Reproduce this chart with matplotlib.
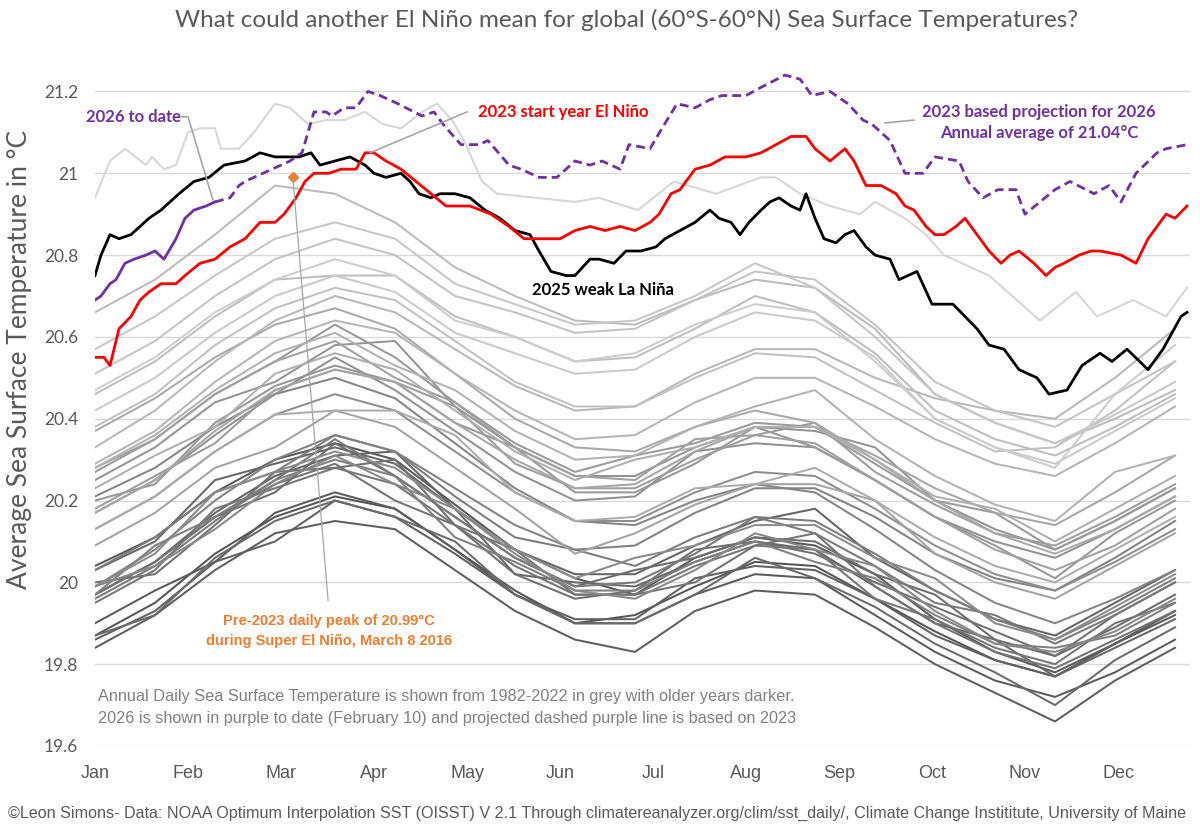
import matplotlib
matplotlib.use('Agg')
import matplotlib.pyplot as plt
from matplotlib.lines import Line2D

# day-of-year knots used for the grey climatology years (every 20 days)
grey_days = [0, 20, 40, 60, 80, 100, 120, 140, 160, 180, 200, 220, 240, 260, 280, 300, 320, 340, 360]

grey_years = {
    1982: [19.87, 19.95, 20.07, 20.16, 20.21, 20.18, 20.08, 19.98, 19.90, 19.92, 19.99, 20.05, 20.04, 19.96, 19.88, 19.81, 19.77, 19.85, 19.93],
    1983: [20.04, 20.11, 20.22, 20.30, 20.34, 20.30, 20.19, 20.08, 20.01, 19.97, 20.06, 20.11, 20.09, 20.02, 19.91, 19.83, 19.78, 19.85, 19.92],
    1984: [19.90, 19.98, 20.05, 20.17, 20.22, 20.18, 20.08, 19.97, 19.90, 19.90, 19.97, 20.02, 20.01, 19.92, 19.83, 19.76, 19.72, 19.78, 19.86],
    1985: [19.84, 19.92, 20.03, 20.12, 20.15, 20.13, 20.03, 19.93, 19.86, 19.83, 19.93, 19.98, 19.97, 19.89, 19.80, 19.73, 19.66, 19.76, 19.84],
    1986: [19.86, 19.93, 20.05, 20.10, 20.20, 20.16, 20.07, 19.97, 19.91, 19.91, 20.01, 20.04, 20.03, 19.96, 19.87, 19.81, 19.77, 19.85, 19.93],
    1987: [19.97, 20.05, 20.17, 20.26, 20.31, 20.32, 20.18, 20.08, 20.02, 20.02, 20.09, 20.15, 20.18, 20.06, 19.98, 19.91, 19.87, 19.95, 20.03],
    1988: [20.03, 20.10, 20.25, 20.29, 20.33, 20.29, 20.18, 20.02, 20.00, 19.99, 20.05, 20.10, 20.08, 19.99, 19.90, 19.86, 19.77, 19.84, 19.91],
    1989: [19.87, 19.92, 20.06, 20.15, 20.20, 20.16, 20.10, 19.97, 19.90, 19.90, 19.97, 20.06, 20.01, 19.94, 19.85, 19.78, 19.70, 19.81, 19.89],
    1990: [19.97, 20.05, 20.16, 20.22, 20.34, 20.26, 20.16, 20.06, 19.99, 20.03, 20.06, 20.11, 20.10, 20.02, 19.97, 19.86, 19.82, 19.89, 19.97],
    1991: [20.00, 20.02, 20.14, 20.27, 20.28, 20.30, 20.14, 20.02, 19.96, 19.98, 20.08, 20.10, 20.07, 20.00, 19.94, 19.88, 19.82, 19.92, 20.00],
    1992: [19.97, 20.05, 20.16, 20.24, 20.29, 20.20, 20.14, 20.04, 19.97, 19.97, 20.00, 20.09, 20.12, 19.99, 19.90, 19.83, 19.79, 19.86, 19.93],
    1993: [19.95, 20.03, 20.18, 20.23, 20.28, 20.24, 20.14, 20.08, 19.97, 19.97, 20.04, 20.09, 20.08, 19.96, 19.91, 19.84, 19.80, 19.90, 19.95],
    1994: [19.96, 20.04, 20.15, 20.25, 20.35, 20.26, 20.16, 20.06, 19.99, 20.00, 20.07, 20.16, 20.12, 20.04, 19.95, 19.92, 19.85, 19.92, 20.00],
    1995: [20.03, 20.11, 20.22, 20.27, 20.36, 20.32, 20.21, 20.11, 20.08, 20.04, 20.11, 20.16, 20.15, 20.07, 19.98, 19.91, 19.86, 19.93, 20.01],
    1996: [19.97, 20.09, 20.16, 20.25, 20.30, 20.26, 20.11, 20.05, 19.98, 19.98, 20.05, 20.10, 20.05, 20.01, 19.92, 19.85, 19.84, 19.87, 19.95],
    1997: [19.99, 20.08, 20.20, 20.30, 20.36, 20.32, 20.23, 20.14, 20.08, 20.09, 20.17, 20.23, 20.23, 20.16, 20.07, 20.01, 19.98, 20.06, 20.15],
    1998: [20.21, 20.28, 20.38, 20.46, 20.50, 20.45, 20.34, 20.23, 20.15, 20.14, 20.20, 20.24, 20.22, 20.13, 20.03, 19.95, 19.90, 19.96, 20.03],
    1999: [19.99, 20.04, 20.13, 20.24, 20.31, 20.24, 20.18, 20.07, 19.98, 19.96, 20.03, 20.12, 20.08, 20.04, 19.93, 19.85, 19.83, 19.88, 19.96],
    2000: [19.99, 20.07, 20.22, 20.27, 20.32, 20.28, 20.18, 20.08, 20.01, 20.06, 20.09, 20.14, 20.14, 20.06, 20.01, 19.90, 19.86, 19.94, 20.02],
    2001: [20.13, 20.21, 20.32, 20.41, 20.46, 20.42, 20.32, 20.22, 20.15, 20.15, 20.22, 20.27, 20.26, 20.18, 20.09, 20.02, 19.98, 20.05, 20.13],
    2002: [20.17, 20.25, 20.36, 20.46, 20.55, 20.47, 20.37, 20.27, 20.20, 20.21, 20.32, 20.34, 20.33, 20.25, 20.16, 20.10, 20.06, 20.13, 20.21],
    2003: [20.25, 20.33, 20.44, 20.49, 20.58, 20.59, 20.43, 20.33, 20.26, 20.26, 20.33, 20.38, 20.37, 20.33, 20.20, 20.13, 20.08, 20.15, 20.23],
    2004: [20.20, 20.24, 20.39, 20.48, 20.53, 20.49, 20.39, 20.33, 20.22, 20.22, 20.29, 20.38, 20.33, 20.25, 20.16, 20.09, 20.01, 20.12, 20.20],
    2005: [20.27, 20.35, 20.46, 20.54, 20.63, 20.55, 20.44, 20.34, 20.27, 20.31, 20.34, 20.39, 20.38, 20.29, 20.20, 20.17, 20.08, 20.15, 20.23],
    2006: [20.18, 20.26, 20.34, 20.47, 20.52, 20.49, 20.43, 20.29, 20.23, 20.23, 20.30, 20.36, 20.39, 20.27, 20.19, 20.12, 20.09, 20.16, 20.24],
    2007: [20.28, 20.35, 20.46, 20.54, 20.59, 20.50, 20.44, 20.33, 20.26, 20.25, 20.35, 20.36, 20.34, 20.25, 20.16, 20.08, 20.03, 20.09, 20.18],
    2008: [20.09, 20.17, 20.28, 20.33, 20.42, 20.38, 20.28, 20.18, 20.07, 20.12, 20.19, 20.24, 20.24, 20.20, 20.07, 20.00, 19.96, 20.04, 20.12],
    2009: [20.17, 20.25, 20.37, 20.47, 20.52, 20.49, 20.39, 20.30, 20.23, 20.24, 20.32, 20.38, 20.38, 20.31, 20.23, 20.17, 20.14, 20.22, 20.31],
    2010: [20.37, 20.45, 20.55, 20.63, 20.67, 20.62, 20.51, 20.40, 20.33, 20.32, 20.38, 20.42, 20.39, 20.30, 20.20, 20.12, 20.07, 20.13, 20.21],
    2011: [20.13, 20.21, 20.32, 20.41, 20.42, 20.42, 20.36, 20.22, 20.15, 20.16, 20.23, 20.24, 20.28, 20.20, 20.11, 20.04, 20.00, 20.08, 20.16],
    2012: [20.23, 20.31, 20.38, 20.51, 20.56, 20.52, 20.42, 20.32, 20.25, 20.30, 20.33, 20.38, 20.38, 20.30, 20.21, 20.18, 20.10, 20.18, 20.26],
    2013: [20.28, 20.36, 20.47, 20.56, 20.61, 20.53, 20.47, 20.37, 20.30, 20.31, 20.38, 20.43, 20.47, 20.35, 20.26, 20.19, 20.15, 20.27, 20.31],
    2014: [20.29, 20.37, 20.49, 20.59, 20.64, 20.61, 20.51, 20.42, 20.35, 20.36, 20.44, 20.50, 20.50, 20.43, 20.35, 20.29, 20.26, 20.34, 20.43],
    2015: [20.33, 20.42, 20.54, 20.64, 20.70, 20.66, 20.57, 20.48, 20.42, 20.43, 20.51, 20.57, 20.57, 20.50, 20.45, 20.42, 20.40, 20.50, 20.62],
    2016: [20.66, 20.74, 20.85, 20.97, 20.95, 20.88, 20.77, 20.70, 20.64, 20.63, 20.69, 20.74, 20.72, 20.62, 20.46, 20.39, 20.34, 20.40, 20.47],
    2017: [20.46, 20.54, 20.65, 20.74, 20.75, 20.75, 20.65, 20.60, 20.54, 20.55, 20.62, 20.70, 20.66, 20.56, 20.42, 20.35, 20.31, 20.38, 20.46],
    2018: [20.38, 20.46, 20.58, 20.67, 20.72, 20.69, 20.59, 20.49, 20.43, 20.43, 20.50, 20.56, 20.55, 20.47, 20.39, 20.32, 20.33, 20.42, 20.54],
    2019: [20.51, 20.59, 20.70, 20.79, 20.84, 20.80, 20.70, 20.66, 20.61, 20.62, 20.69, 20.76, 20.74, 20.63, 20.49, 20.42, 20.38, 20.46, 20.54],
    2020: [20.57, 20.65, 20.75, 20.84, 20.88, 20.84, 20.73, 20.68, 20.63, 20.64, 20.70, 20.78, 20.72, 20.60, 20.46, 20.39, 20.34, 20.41, 20.49],
    2021: [20.42, 20.50, 20.61, 20.70, 20.75, 20.71, 20.61, 20.56, 20.51, 20.52, 20.60, 20.66, 20.64, 20.55, 20.40, 20.33, 20.29, 20.37, 20.45],
    2022: [20.47, 20.55, 20.66, 20.74, 20.79, 20.75, 20.64, 20.60, 20.54, 20.56, 20.63, 20.68, 20.66, 20.54, 20.40, 20.33, 20.28, 20.46, 20.58],
}

days_2024 = [0, 5, 10, 17, 19, 23, 27, 31, 35, 40, 42, 48, 53, 60, 65, 71, 77, 83, 90, 96, 102, 109,
             114, 119, 123, 129, 134, 147, 160, 168, 181, 193, 207, 222, 227, 235, 245, 255, 260,
             270, 277, 283, 298, 315, 327, 334, 346, 357, 364]
sst_2024 = [20.94, 21.03, 21.06, 21.02, 21.04, 21.01, 21.02, 21.10, 21.11, 21.11, 21.06, 21.06, 21.10,
            21.17, 21.16, 21.12, 21.13, 21.13, 21.15, 21.12, 21.11, 21.15, 21.17, 21.13, 21.08, 20.98,
            20.95, 20.94, 20.93, 20.94, 20.91, 20.98, 20.95, 20.99, 20.99, 20.95, 20.92, 20.90, 20.93,
            20.89, 20.85, 20.80, 20.75, 20.64, 20.71, 20.65, 20.69, 20.65, 20.72]

days_2023 = [0, 3, 5, 8, 12, 15, 18, 22, 27, 30, 35, 40, 45, 50, 55, 60, 63, 67, 70, 73, 78, 82, 87,
             90, 93, 97, 102, 107, 112, 117, 125, 132, 138, 143, 150, 155, 160, 165, 170, 175, 180,
             185, 188, 192, 195, 200, 205, 210, 217, 222, 227, 232, 237, 240, 245, 250, 253, 257,
             262, 267, 270, 273, 277, 280, 283, 287, 290, 293, 298, 302, 305, 308, 313, 317, 320,
             323, 328, 332, 335, 342, 347, 351, 357, 360, 364]
sst_2023 = [20.55, 20.55, 20.53, 20.62, 20.65, 20.69, 20.71, 20.73, 20.73, 20.75, 20.78, 20.79, 20.82,
            20.84, 20.88, 20.88, 20.90, 20.94, 20.98, 21.00, 21.00, 21.01, 21.01, 21.05, 21.05, 21.03,
            21.01, 20.98, 20.95, 20.92, 20.92, 20.90, 20.87, 20.84, 20.84, 20.84, 20.86, 20.87, 20.86,
            20.87, 20.86, 20.88, 20.90, 20.95, 20.96, 21.01, 21.02, 21.04, 21.04, 21.05, 21.07, 21.09,
            21.09, 21.06, 21.03, 21.06, 21.03, 20.97, 20.97, 20.95, 20.92, 20.91, 20.87, 20.85, 20.85,
            20.87, 20.89, 20.86, 20.81, 20.78, 20.80, 20.81, 20.78, 20.75, 20.77, 20.78, 20.80, 20.81,
            20.81, 20.80, 20.78, 20.84, 20.90, 20.89, 20.92]

days_2025 = [0, 2, 5, 8, 12, 15, 18, 22, 25, 28, 33, 38, 43, 50, 55, 60, 65, 68, 72, 75, 80, 85, 90,
             93, 97, 102, 105, 108, 112, 115, 120, 125, 130, 135, 140, 145, 148, 152, 157, 160, 165,
             168, 173, 177, 182, 187, 190, 195, 200, 205, 208, 212, 215, 218, 222, 225, 228, 232,
             235, 237, 240, 243, 247, 250, 253, 257, 260, 265, 268, 274, 279, 286, 294, 298, 303,
             308, 314, 318, 324, 329, 335, 339, 344, 351, 356, 362, 364]
sst_2025 = [20.75, 20.80, 20.85, 20.84, 20.85, 20.87, 20.89, 20.91, 20.93, 20.95, 20.98, 20.99, 21.02,
            21.03, 21.05, 21.04, 21.04, 21.04, 21.05, 21.02, 21.03, 21.04, 21.02, 21.00, 20.99, 21.00,
            20.98, 20.95, 20.94, 20.95, 20.95, 20.94, 20.91, 20.89, 20.86, 20.85, 20.81, 20.76, 20.75,
            20.75, 20.79, 20.79, 20.78, 20.81, 20.81, 20.82, 20.84, 20.86, 20.88, 20.91, 20.89, 20.88,
            20.85, 20.88, 20.91, 20.93, 20.94, 20.92, 20.91, 20.95, 20.89, 20.84, 20.83, 20.85, 20.86,
            20.82, 20.80, 20.79, 20.74, 20.76, 20.68, 20.68, 20.62, 20.58, 20.57, 20.52, 20.50, 20.46,
            20.47, 20.53, 20.56, 20.54, 20.57, 20.52, 20.57, 20.65, 20.66]

days_2026 = [0, 2, 5, 7, 10, 13, 17, 20, 23, 27, 30, 33, 37, 40]
sst_2026 = [20.69, 20.70, 20.73, 20.74, 20.78, 20.79, 20.80, 20.81, 20.79, 20.84, 20.89, 20.91, 20.92, 20.93]

days_proj = [40, 45, 48, 50, 56, 62, 65, 69, 73, 77, 79, 83, 87, 91, 95, 101, 109, 113, 116, 122, 128,
             131, 138, 142, 148, 154, 160, 165, 169, 175, 178, 185, 189, 194, 200, 205, 209, 217,
             222, 230, 235, 239, 245, 251, 256, 259, 265, 270, 276, 280, 288, 291, 296, 301, 307,
             310, 315, 320, 325, 333, 338, 342, 347, 354, 357, 364]
sst_proj = [20.93, 20.94, 20.97, 20.98, 21.00, 21.02, 21.03, 21.05, 21.15, 21.15, 21.14, 21.16, 21.16,
            21.20, 21.19, 21.17, 21.14, 21.15, 21.12, 21.07, 21.07, 21.08, 21.02, 21.01, 20.99, 20.99,
            21.03, 21.02, 21.03, 21.01, 21.07, 21.06, 21.11, 21.17, 21.16, 21.18, 21.19, 21.19, 21.21,
            21.24, 21.23, 21.19, 21.20, 21.17, 21.13, 21.12, 21.08, 21.00, 21.00, 21.04, 21.03, 20.98,
            20.94, 20.96, 20.96, 20.90, 20.93, 20.96, 20.98, 20.95, 20.97, 20.93, 21.00, 21.05, 21.06,
            21.07]

peak_2016_day = 66
peak_2016_value = 20.99

months = ['Jan', 'Feb', 'Mar', 'Apr', 'May', 'Jun', 'Jul', 'Aug', 'Sep', 'Oct', 'Nov', 'Dec']
yticks = [19.6, 19.8, 20.0, 20.2, 20.4, 20.6, 20.8, 21.0, 21.2]
ytick_labels = ['19.6', '19.8', '20', '20.2', '20.4', '20.6', '20.8', '21', '21.2']

TXT = '#595959'
sans = ['Lato', 'DejaVu Sans']
narrow = ['Liberation Sans', 'DejaVu Sans']

fig = plt.figure(figsize=(12, 8.36), dpi=100)
ax = fig.add_axes([95 / 1200, 1 - 746 / 836, 1095 / 1200, 675 / 836])

years = sorted(grey_years)
n = len(years)
for i, yr in enumerate(years):
    g = (85 + 120 * i / (n - 1)) / 255
    ax.plot(grey_days, grey_years[yr], color=(g, g, g), lw=1.45, zorder=2)
ax.plot(days_2024, sst_2024, color='#d6d6d6', lw=1.45, zorder=2)

ax.plot(days_2025, sst_2025, color='black', lw=2.0, zorder=4)
ax.plot(days_2023, sst_2023, color='#ff0000', lw=2.0, zorder=5)
ax.plot(days_proj, sst_proj, color='#7030a0', lw=2.0, dashes=(3.2, 1.8), zorder=6)
ax.plot(days_2026, sst_2026, color='#7030a0', lw=2.0, zorder=6)
ax.plot([peak_2016_day], [peak_2016_value], marker='D', ms=5, color='#ed7d31', zorder=7)

ax.set_xlim(0, 365)
ax.set_ylim(19.6, 21.25)
ax.set_yticks(yticks)
ax.set_yticklabels(ytick_labels, family=sans, fontsize=12.5, color=TXT)
ax.set_xticks([31 * i for i in range(12)])
ax.set_xticklabels(months, family=narrow, fontsize=13, color=TXT)
ax.tick_params(length=0)
ax.tick_params(axis='y', pad=12)
ax.tick_params(axis='x', pad=14)
ax.grid(axis='y', color='#d9d9d9', lw=1.0, zorder=0)
ax.set_axisbelow(True)
for s in ax.spines.values():
    s.set_visible(False)

# annotations
ax.text(13, 21.137, '2026 to date', color='#7030a0', fontsize=12, fontweight='bold',
        family=sans, ha='center', va='center')
ax.add_line(Line2D([29, 31, 39.3], [21.138, 21.138, 20.935], color='#a6a6a6', lw=1.2, zorder=8))
ax.text(127.7, 21.15, '2023 start year El Niño', color='#ff0000', fontsize=12, fontweight='bold',
        family=sans, ha='left', va='center')
ax.add_line(Line2D([124, 91.7], [21.15, 21.05], color='#a6a6a6', lw=1.2, zorder=8))
ax.text(314.7, 21.15, '2023 based projection for 2026', color='#7030a0', fontsize=12,
        fontweight='bold', family=sans, ha='center', va='center')
ax.text(314.7, 21.099, 'Annual average of 21.04°C', color='#7030a0', fontsize=12,
        fontweight='bold', family=sans, ha='center', va='center')
ax.add_line(Line2D([273, 263.3], [21.13, 21.123], color='#a6a6a6', lw=1.2, zorder=8))
ax.text(169.3, 20.714, '2025 weak La Niña', color='black', fontsize=12, fontweight='bold',
        family=sans, ha='center', va='center')
ax.add_line(Line2D([66, 77.7], [20.985, 19.956], color='#a6a6a6', lw=0.9, zorder=8))
ax.text(78, 19.905, 'Pre-2023 daily peak of 20.99°C', color='#ed7d31', fontsize=10.5,
        fontweight='bold', family=narrow, ha='center', va='center')
ax.text(78, 19.856, 'during Super El Niño, March 8 2016', color='#ed7d31', fontsize=10.5,
        fontweight='bold', family=narrow, ha='center', va='center')
ax.text(1, 19.721, 'Annual Daily Sea Surface Temperature is shown from 1982-2022 in grey with older years darker.',
        color='#808080', fontsize=11.7, family=narrow, ha='left', va='center')
ax.text(1, 19.667, '2026 is shown in purple to date (February 10) and projected dashed purple line is based on 2023',
        color='#808080', fontsize=11.7, family=narrow, ha='left', va='center')

fig.text(627 / 1200, 1 - 20 / 836,
         'What could another El Niño mean for global (60°S-60°N) Sea Surface Temperatures?',
         ha='center', va='center', fontsize=17.5, color=TXT, family=sans)
fig.text(20 / 1200, 1 - 359 / 836, 'Average Sea Surface Temperature in °C', rotation=90,
         ha='center', va='center', fontsize=19, color=TXT, family=sans)
fig.text(8 / 1200, 1 - 813 / 836,
         '©Leon Simons- Data: NOAA Optimum Interpolation SST (OISST) V 2.1 Through climatereanalyzer.org/clim/sst_daily/, Climate Change Instititute, University of Maine',
         ha='left', va='center', fontsize=11.6, color=TXT, family=narrow)

fig.savefig('out.png', dpi=100, facecolor='white')
